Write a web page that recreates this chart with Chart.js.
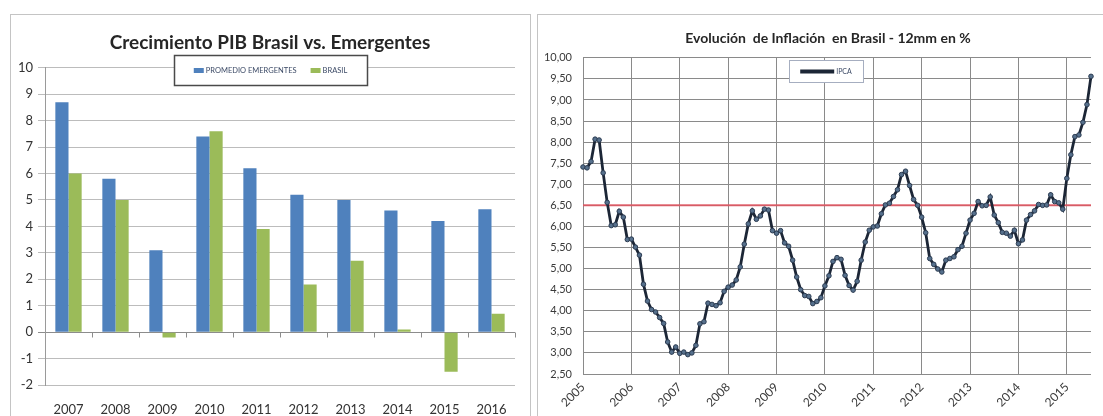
<!DOCTYPE html>
<html>
<head>
<meta charset="utf-8">
<script src="https://cdn.jsdelivr.net/npm/chart.js@4.4.1/dist/chart.umd.min.js"></script>
<style>
  body { margin: 0; background: #fff; width: 1103px; height: 416px; overflow: hidden; position: relative; }
  canvas { position: absolute; top: 0; }
  #pib { left: 0; }
  #inflacion { left: 535px; }
  .marco { position: absolute; border: 1px solid #c4c4c4; pointer-events: none; }
  #marcoPib { left: 10px; top: 14px; width: 519px; height: 430px; }
  #marcoInf { left: 537px; top: 14px; width: 600px; height: 430px; }
</style>
</head>
<body>
<canvas id="pib" width="535" height="416"></canvas>
<canvas id="inflacion" width="576" height="416"></canvas>
<div class="marco" id="marcoPib"></div>
<div class="marco" id="marcoInf"></div>
<script>
// --- Crecimiento PIB ---
const anios = ["2007", "2008", "2009", "2010", "2011", "2012", "2013", "2014", "2015", "2016"];
const emergentes = [8.7, 5.8, 3.1, 7.4, 6.2, 5.2, 5.0, 4.6, 4.2, 4.65];
const brasil = [6.0, 5.0, -0.2, 7.6, 3.9, 1.8, 2.7, 0.1, -1.5, 0.7];

// --- IPCA 12 meses, ene 2005 - jul 2015 ---
const aniosIPCA = ["2005", "2006", "2007", "2008", "2009", "2010", "2011", "2012", "2013", "2014", "2015"];
const mesesCortos = ["ene", "feb", "mar", "abr", "may", "jun", "jul", "ago", "sep", "oct", "nov", "dic"];
const ipca = [
  7.41, 7.39, 7.54, 8.07, 8.05, 7.27, 6.57, 6.02, 6.04, 6.36, 6.22, 5.69,
  5.70, 5.51, 5.32, 4.63, 4.23, 4.03, 3.97, 3.84, 3.70, 3.26, 3.02, 3.14,
  2.99, 3.02, 2.96, 3.00, 3.18, 3.69, 3.74, 4.18, 4.15, 4.12, 4.19, 4.46,
  4.56, 4.61, 4.73, 5.04, 5.58, 6.06, 6.37, 6.17, 6.25, 6.41, 6.39, 5.90,
  5.84, 5.90, 5.61, 5.53, 5.20, 4.80, 4.50, 4.36, 4.34, 4.17, 4.22, 4.31,
  4.59, 4.83, 5.17, 5.26, 5.22, 4.84, 4.60, 4.49, 4.70, 5.20, 5.63, 5.91,
  5.99, 6.01, 6.30, 6.51, 6.55, 6.71, 6.87, 7.23, 7.31, 6.97, 6.64, 6.50,
  6.22, 5.85, 5.24, 5.10, 4.99, 4.92, 5.20, 5.24, 5.28, 5.45, 5.53, 5.84,
  6.15, 6.31, 6.59, 6.49, 6.50, 6.70, 6.27, 6.09, 5.86, 5.84, 5.77, 5.91,
  5.59, 5.68, 6.15, 6.28, 6.37, 6.52, 6.50, 6.51, 6.75, 6.59, 6.56, 6.41,
  7.14, 7.70, 8.13, 8.17, 8.47, 8.89, 9.56
];
const metaIPCA = 6.5;

const meses = ipca.map((v, i) => mesesCortos[i % 12] + " " + aniosIPCA[Math.floor(i / 12)]);

Chart.defaults.font.family = "Lato, 'Open Sans', sans-serif";
Chart.defaults.color = "#3a3a3a";

// legend in a framed white box, drawn over the plot like in the original
const leyendaCaja = {
  id: "leyendaCaja",
  afterDatasetsDraw(chart, args, o) {
    const ctx = chart.ctx;
    ctx.save();
    ctx.fillStyle = "#fff";
    ctx.fillRect(o.x, o.y, o.w, o.h);
    ctx.strokeStyle = o.borde;
    ctx.lineWidth = o.grosor;
    ctx.strokeRect(o.x + 0.5, o.y + 0.5, o.w, o.h);
    ctx.font = o.fuente;
    ctx.textBaseline = "middle";
    const items = chart.data.datasets.filter(d => d.enLeyenda !== false);
    let total = 0;
    items.forEach((d, i) => {
      total += o.muestra + 2 + ctx.measureText(d.label).width + (i ? o.separa : 0);
    });
    let x = o.x + (o.w - total) / 2;
    const yc = o.y + o.h / 2 + 0.5;
    items.forEach(d => {
      if (o.tipo === "linea") {
        ctx.strokeStyle = d.borderColor;
        ctx.lineWidth = 4;
        ctx.beginPath();
        ctx.moveTo(x, yc);
        ctx.lineTo(x + o.muestra, yc);
        ctx.stroke();
      } else {
        ctx.fillStyle = d.backgroundColor;
        ctx.fillRect(x, yc - 2.5, o.muestra, 5);
      }
      x += o.muestra + 2;
      ctx.fillStyle = o.colorTexto;
      ctx.fillText(d.label, x, yc);
      x += ctx.measureText(d.label).width + o.separa;
    });
    ctx.restore();
  }
};

// small tick marks under the zero line between categories
const marcasCero = {
  id: "marcasCero",
  afterDatasetsDraw(chart) {
    const xs = chart.scales.x, ys = chart.scales.y;
    const y0 = Math.round(ys.getPixelForValue(0)) + 0.5;
    const paso = (xs.right - xs.left) / anios.length;
    const ctx = chart.ctx;
    ctx.save();
    ctx.strokeStyle = "#8c8c8c";
    ctx.lineWidth = 1;
    ctx.beginPath();
    for (let k = 1; k <= anios.length; k++) {
      const x = Math.round(xs.left + k * paso) + 0.5;
      ctx.moveTo(x, y0);
      ctx.lineTo(x, y0 + 5);
    }
    ctx.stroke();
    ctx.restore();
  }
};

// empty right-hand axis, only there to keep the title centred like the original
const ejeVacio = w => ({
  position: "right",
  grid: { display: false, drawTicks: false },
  border: { display: false },
  ticks: { display: false },
  afterFit: s => { s.width = w; }
});

new Chart(document.getElementById("pib"), {
  type: "bar",
  data: {
    labels: anios,
    datasets: [
      { label: "PROMEDIO EMERGENTES", data: emergentes, backgroundColor: "#4f81bd" },
      { label: "BRASIL", data: brasil, backgroundColor: "#9bbb59" }
    ]
  },
  options: {
    responsive: false,
    animation: false,
    events: [],
    devicePixelRatio: 1,
    layout: { padding: { left: 10, right: 5, top: 0, bottom: 0 } },
    datasets: { bar: { categoryPercentage: 0.56, barPercentage: 1.0 } },
    plugins: {
      legend: { display: false },
      tooltip: { enabled: false },
      title: {
        display: true,
        text: "Crecimiento PIB Brasil vs. Emergentes",
        color: "#262626",
        font: { size: 19, weight: "bold" },
        padding: { top: 31, bottom: 14 }
      },
      leyendaCaja: {
        x: 174, y: 55, w: 193, h: 30,
        borde: "#4a4a4a", grosor: 1.5,
        fuente: "7.5px Lato, sans-serif", colorTexto: "#3c4a66",
        muestra: 10, separa: 14, tipo: "rect"
      }
    },
    scales: {
      x: {
        grid: { display: false, drawTicks: false },
        border: { display: false },
        ticks: { padding: 17, color: "#333", font: { size: 13 } },
        afterFit: s => { s.height = 31; }
      },
      y: {
        min: -2, max: 10,
        ticks: { stepSize: 1, padding: 5, color: "#333", font: { size: 13 } },
        grid: {
          color: c => (c.tick && c.tick.value === 0 ? "#8c8c8c" : "#bcbcbc"),
          tickLength: 7
        },
        border: { color: "#9a9a9a" },
        afterFit: s => { s.width = 35; }
      },
      yDer: ejeVacio(15)
    }
  },
  plugins: [marcasCero, leyendaCaja]
});

new Chart(document.getElementById("inflacion"), {
  type: "line",
  data: {
    labels: meses,
    datasets: [
      {
        label: "IPCA",
        data: ipca,
        borderColor: "#1c2636",
        borderWidth: 2.8,
        pointRadius: 2.3,
        pointBackgroundColor: "#56708c",
        pointBorderColor: "#2c3c52",
        pointBorderWidth: 1,
        tension: 0
      },
      {
        label: "Meta",
        enLeyenda: false,
        data: [{ x: meses[0], y: metaIPCA }, { x: meses[meses.length - 1], y: metaIPCA }],
        borderColor: "rgba(222, 86, 98, 0.9)",
        borderWidth: 2,
        pointRadius: 0,
        tension: 0
      }
    ]
  },
  options: {
    responsive: false,
    animation: false,
    events: [],
    devicePixelRatio: 1,
    layout: { padding: { left: 10, right: 0, top: 0, bottom: 0 } },
    plugins: {
      legend: { display: false },
      tooltip: { enabled: false },
      title: {
        display: true,
        text: "Evolución  de Inflación  en Brasil - 12mm en %",
        color: "#262626",
        font: { size: 14, weight: "bold" },
        padding: { top: 30, bottom: 11 }
      },
      leyendaCaja: {
        x: 254, y: 60, w: 74, h: 22,
        borde: "#a6aec0", grosor: 1,
        fuente: "7px Lato, sans-serif", colorTexto: "#3c4a66",
        muestra: 34, separa: 8, tipo: "linea"
      }
    },
    scales: {
      x: {
        grid: {
          color: c => (c.index % 12 === 0 ? "#8a8a8a" : "rgba(0,0,0,0)"),
          drawTicks: false
        },
        border: { display: false },
        ticks: {
          autoSkip: false,
          minRotation: 45,
          maxRotation: 45,
          padding: 6,
          color: "#3a3a3a",
          font: { size: 12 },
          callback: (v, i) => (i % 12 === 0 ? aniosIPCA[i / 12] : "")
        },
        afterFit: s => { s.height = 42; }
      },
      y: {
        min: 2.5, max: 10,
        ticks: {
          stepSize: 0.5, padding: 11, color: "#3a3a3a", font: { size: 11 },
          callback: v => v.toFixed(2).replace(".", ",")
        },
        grid: { color: "#8a8a8a", drawTicks: false },
        border: { color: "#8a8a8a" },
        afterFit: s => { s.width = 38; }
      },
      yDer: ejeVacio(20)
    }
  },
  plugins: [leyendaCaja]
});
</script>
</body>
</html>
